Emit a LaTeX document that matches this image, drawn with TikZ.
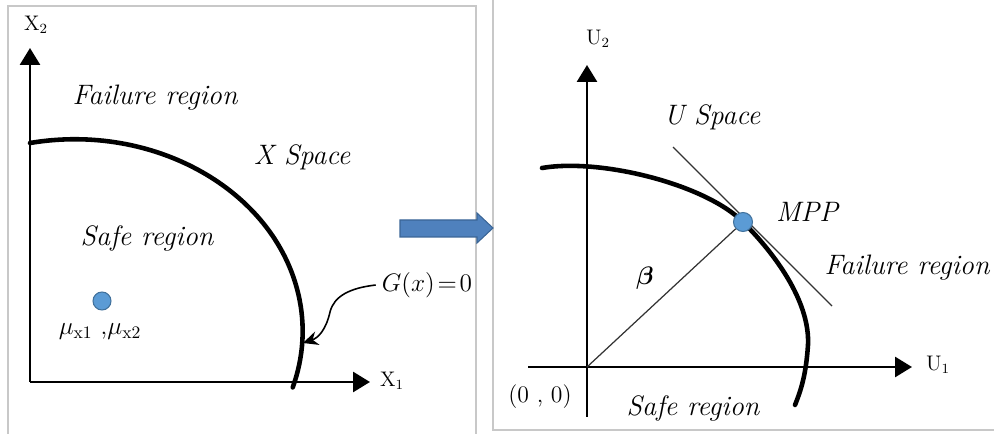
\documentclass[tikz,border=0pt]{standalone}
\usepackage{amsmath, amssymb}
\usepackage{tikz}
\usetikzlibrary{arrows.meta, positioning, calc}
\definecolor{dotblue}{HTML}{5B9BD5}
\definecolor{dotedge}{HTML}{41719C}
\definecolor{arrblue}{HTML}{4F81BD}
\definecolor{arredge}{HTML}{3A6596}
\definecolor{framegray}{HTML}{C8C8C8}
\tikzset{
    axis/.style={-{Triangle[length=3.4mm, width=4mm]}, line width=1.6pt},
    limit/.style={line width=2.6pt, line cap=round},
    guide/.style={line width=0.7pt, black!80},
    pt/.style={circle, fill=dotblue, draw=dotedge, line width=0.6pt, minimum size=3.6mm, inner sep=0pt},
    reg/.style={font=\fontsize{16}{19}\selectfont\itshape, text=black},
    ax/.style={font=\fontsize{11.5}{14}\selectfont, text=black},
    panel/.style={draw=framegray, line width=1.2pt}
}

\begin{document}
\begin{tikzpicture}[x=0.2mm, y=-0.2mm]
    \useasboundingbox (0,0) rectangle (994,434);
    \clip (0,0) rectangle (994,434);
    % frames
    \draw[panel] (8,440) -- (8,6) -- (476,6) -- (476,440);
    \draw[panel] (493,-5) -- (493,430) -- (1000,430);

    % X space
    \coordinate (xo) at (30,382);
    \coordinate (x1end) at (370,382);
    \coordinate (x2end) at (30,48);
    \draw[axis] (xo) -- (x1end);
    \draw[axis] (xo) -- (x2end);
    \node[ax] (x2lbl) at (36,25) {$\mathrm{X}_2$};
    \node[ax] (x1lbl) at (392,381) {$\mathrm{X}_1$};
    \draw[limit] (30,143) arc[start angle=-101.3, end angle=17, x radius=228, y radius=192];
    \coordinate (gpt) at (303,343);
    \node[reg] (fail1) at (155,98) {Failure region};
    \node[reg] (xsp) at (302,157) {X Space};
    \node[reg] (safe1) at (147,238) {Safe region};
    \node[pt] (mu) at (102,301) {};
    \node[font=\fontsize{14}{16}\selectfont] (mulbl) at (100,332) {$\mu_{\mathrm{x1}}$ ,$\mu_{\mathrm{x2}}$};
    \node[font=\fontsize{15}{18}\selectfont] (glbl) at (427,285) {$G(x)\!=\!0$};
    \draw[line width=0.9pt, -{Stealth[length=3mm, width=2.8mm]}] (glbl.west)
        .. controls (350,288) and (334,296) .. (330,312)
        .. controls (326,330) and (318,338) .. (gpt);

    % arrow between panels
    \draw[fill=arrblue, draw=arredge, line width=0.6pt] (400,220) -- (477,220) -- (477,213)
        -- (493,228) -- (477,243) -- (477,237) -- (400,237) -- cycle;

    % U space
    \coordinate (uo) at (587,367);
    \coordinate (u1start) at (528,367);
    \coordinate (u1end) at (912,367);
    \coordinate (u2start) at (587,417);
    \coordinate (u2end) at (587,65);
    \draw[axis] (u1start) -- (u1end);
    \draw[axis] (u2start) -- (u2end);
    \node[ax] (u2lbl) at (598,39) {$\mathrm{U}_2$};
    \node[ax] (u1lbl) at (938,365) {$\mathrm{U}_1$};
    \node[font=\fontsize{13.5}{16}\selectfont] (orig) at (540,397) {(0 , 0)};
    \draw[limit] (542,168) .. controls (600,158) and (705,184) .. (743,222)
        .. controls (780,259) and (810,305) .. (808,345)
        .. controls (806,375) and (801,390) .. (795,405);
    \coordinate (ta) at (673,147);
    \coordinate (tb) at (832,306);
    \draw[guide] (ta) -- (tb);
    \node[pt, minimum size=3.8mm] (mpp) at (743,222) {};
    \draw[guide] (uo) -- (mpp);
    \node[font=\fontsize{14}{16}\selectfont] (beta) at (645,278) {$\boldsymbol{\beta}$};
    \node[reg] (usp) at (712,117) {U Space};
    \node[reg] (mpplbl) at (807,212) {MPP};
    \node[reg] (fail2) at (907,268) {Failure region};
    \node[reg] (safe2) at (693,408) {Safe region};
\end{tikzpicture}
\end{document}
